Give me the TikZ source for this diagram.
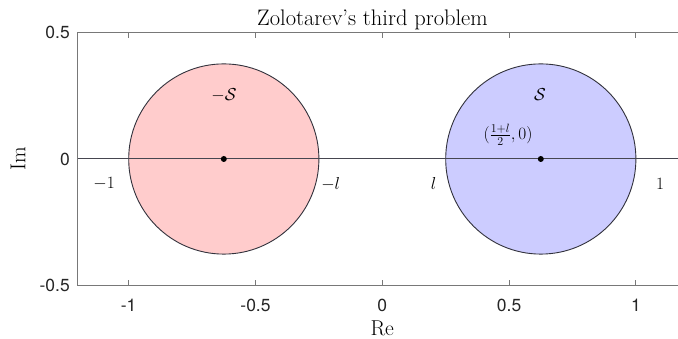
\documentclass[tikz,border=0pt]{standalone}
\usepackage{fontspec}
\newfontfamily\tickfont{TeX Gyre Heros}
\definecolor{redfill}{RGB}{255,204,204}
\definecolor{bluefill}{RGB}{204,204,255}
\definecolor{axisgray}{RGB}{120,120,120}
\definecolor{edgegray}{RGB}{50,50,60}
\tikzset{
  axisline/.style={draw=axisgray, line width=1pt},
  ticklab/.style={font=\tickfont\fontsize{17.5}{20}\selectfont, text=black!85, inner sep=0pt},
  axlab/.style={font=\fontsize{21.5}{24}\selectfont, inner sep=0pt},
  mlab/.style={font=\fontsize{18.5}{21}\selectfont, inner sep=0pt},
  disk/.style={circle, draw=edgegray, line width=0.9pt, inner sep=0pt, minimum size=190.2pt},
  ctr/.style={circle, fill=black, inner sep=0pt, minimum size=6pt},
}
\begin{document}
\begin{tikzpicture}[x=1pt,y=1pt]
\clip (0,0) rectangle (678,339);
\fill[white] (0,0) rectangle (678,339);
\begin{scope}[shift={(382.3,180)}, x=253.6pt, y=253.5pt]
  % discs
  \node[disk, fill=redfill] (negS) at (-0.625,0) {};
  \node[disk, fill=bluefill] (posS) at (0.625,0) {};
  % real axis line
  \coordinate (lineL) at (-1.2,0);
  \coordinate (lineR) at (1.2,0);
  \draw[edgegray!90!white, line width=1pt] (lineL) -- (lineR);
  \node[ctr] (cneg) at (-0.625,0) {};
  \node[ctr] (cpos) at (0.625,0) {};
  % box
  \draw[axisline] (-1.2,-0.5) rectangle (1.2,0.5);
  \foreach \t/\lab in {-1/-1,-0.5/-0.5,0/0,0.5/0.5,1/1} {
    \draw[axisline] (\t,-0.5) -- ++(0,6pt);
    \draw[axisline] (\t,0.5) -- ++(0,-6pt);
    \node[ticklab] at (\t,-0.5775) {\lab};
  }
  \node[ticklab, anchor=east] (y1) at (-1.2315,0.5) {0.5};
  \node[ticklab, anchor=east] (y0) at (-1.2315,0) {0};
  \node[ticklab, anchor=east] (y2) at (-1.2315,-0.5) {-0.5};
  % axis labels and title
  \node[axlab, anchor=base] (re) at (0,-0.698) {Re};
  \node[axlab, rotate=90] (im) at (-1.4365,0) {Im};
  \node[font=\fontsize{22.5}{26}\selectfont, inner sep=0pt, anchor=base] (title) at (-0.0387,0.5247) {Zolotarev’s third problem};
  % math labels
  \node[mlab] (lnegS) at (-0.624,0.2525) {$-\mathcal{S}$};
  \node[mlab] (lposS) at (0.622,0.256) {$\mathcal{S}$};
  \node[mlab] (lctr) at (0.4956,0.0947) {$(\frac{1+l}{2},0)$};
  \node[mlab] (lm1) at (-1.097,-0.0986) {$-1$};
  \node[mlab] (lml) at (-0.2035,-0.0986) {$-l$};
  \node[mlab] (ll) at (0.2023,-0.0986) {$l$};
  \node[mlab] (l1) at (1.095,-0.0986) {$1$};
\end{scope}
\end{tikzpicture}
\end{document}
